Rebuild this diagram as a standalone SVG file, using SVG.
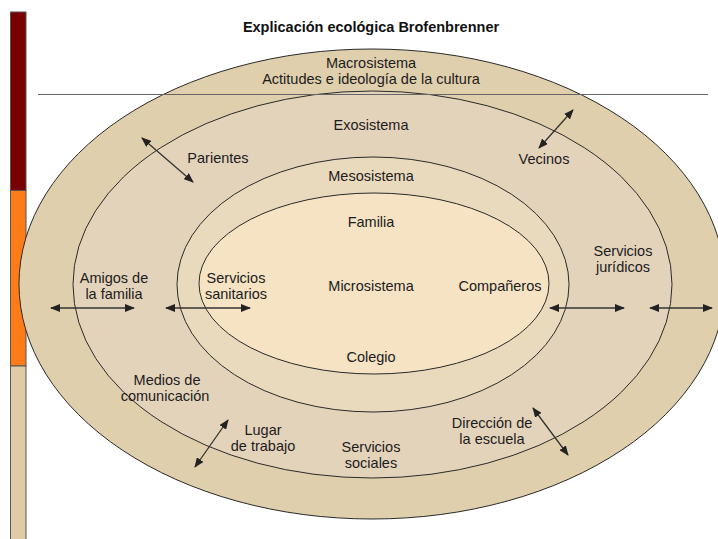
<svg xmlns="http://www.w3.org/2000/svg" width="718" height="539" viewBox="0 0 718 539">
<style>
  .lbl { font-family: "Liberation Sans", Arial, sans-serif; font-size: 14.5px; fill: #1c1c1c; text-anchor: middle; }
  .title { font-family: "Liberation Sans", Arial, sans-serif; font-size: 14.5px; font-weight: bold; fill: #111; text-anchor: middle; }
  .ring { stroke: #2a2a2a; stroke-width: 1; }
  .bar { stroke: #555; stroke-width: 1; }
  .arr { stroke: #333; stroke-width: 1.3; fill: none; marker-start: url(#ah); marker-end: url(#ah); }
</style>
<defs>
  <marker id="ah" viewBox="0 0 10 8" refX="9" refY="4" markerWidth="10" markerHeight="8" markerUnits="userSpaceOnUse" orient="auto-start-reverse">
    <path d="M0,0 L10,4 L0,8 Z" fill="#222"/>
  </marker>
</defs>
<rect width="718" height="539" fill="#ffffff"/>
<g id="sidebar">
  <rect class="bar" x="10.5" y="12" width="15.5" height="178.5" fill="#7a0000"/>
  <rect class="bar" x="10.5" y="190.5" width="15.5" height="175.5" fill="#fd7c17"/>
  <rect class="bar" x="10.5" y="366" width="15.5" height="180" fill="#dfcba7"/>
</g>
<g id="title">
  <text class="title" x="371" y="32">Explicación ecológica Brofenbrenner</text>
</g>
<g id="macrosistema">
  <ellipse class="ring" cx="372" cy="284" rx="353" ry="235" fill="#e0cfac" stroke="#444"/>
  <text class="lbl" x="371" y="68">Macrosistema</text>
  <text class="lbl" x="371" y="84">Actitudes e ideología de la cultura</text>
</g>
<g id="exosistema">
  <ellipse class="ring" cx="372.5" cy="284.5" rx="299.5" ry="193.5" fill="#e4d3bb"/>
  <text class="lbl" x="371" y="130">Exosistema</text>
</g>
<g id="cutline">
  <line x1="38" y1="94.5" x2="708" y2="94.5" stroke="#666" stroke-width="1.2"/>
</g>
<g id="mesosistema">
  <ellipse class="ring" cx="373" cy="284.5" rx="196" ry="127.5" fill="#eadabd"/>
  <text class="lbl" x="371" y="181">Mesosistema</text>
</g>
<g id="microsistema">
  <ellipse class="ring" cx="374" cy="283.5" rx="175" ry="90.5" fill="#f5e3c4"/>
  <text class="lbl" x="371" y="227">Familia</text>
  <text class="lbl" x="371" y="291">Microsistema</text>
  <text class="lbl" x="371" y="362">Colegio</text>
  <text class="lbl" x="500" y="291">Compañeros</text>
</g>
<g id="labels">
  <text class="lbl" x="218" y="163">Parientes</text>
  <text class="lbl" x="544" y="164">Vecinos</text>
  <text class="lbl" x="114" y="283">Amigos de</text>
  <text class="lbl" x="114" y="299">la familia</text>
  <text class="lbl" x="236" y="283">Servicios</text>
  <text class="lbl" x="236" y="299">sanitarios</text>
  <text class="lbl" x="623" y="256">Servicios</text>
  <text class="lbl" x="623" y="272">jurídicos</text>
  <text class="lbl" x="167" y="385">Medios de</text>
  <text class="lbl" x="165" y="401">comunicación</text>
  <text class="lbl" x="263" y="435">Lugar</text>
  <text class="lbl" x="263" y="451">de trabajo</text>
  <text class="lbl" x="371" y="452">Servicios</text>
  <text class="lbl" x="371" y="468">sociales</text>
  <text class="lbl" x="492" y="428">Dirección de</text>
  <text class="lbl" x="492" y="444">la escuela</text>
</g>
<g id="connectors">
  <line class="arr" x1="51" y1="308" x2="134" y2="308"/>
  <line class="arr" x1="166" y1="308" x2="250" y2="308"/>
  <line class="arr" x1="550" y1="308" x2="624" y2="308"/>
  <line class="arr" x1="650" y1="308" x2="712" y2="308"/>
  <line class="arr" x1="142" y1="138" x2="193" y2="182"/>
  <line class="arr" x1="573" y1="110" x2="539" y2="148"/>
  <line class="arr" x1="228" y1="420" x2="195" y2="467"/>
  <line class="arr" x1="533" y1="408" x2="568" y2="455"/>
</g>
</svg>
